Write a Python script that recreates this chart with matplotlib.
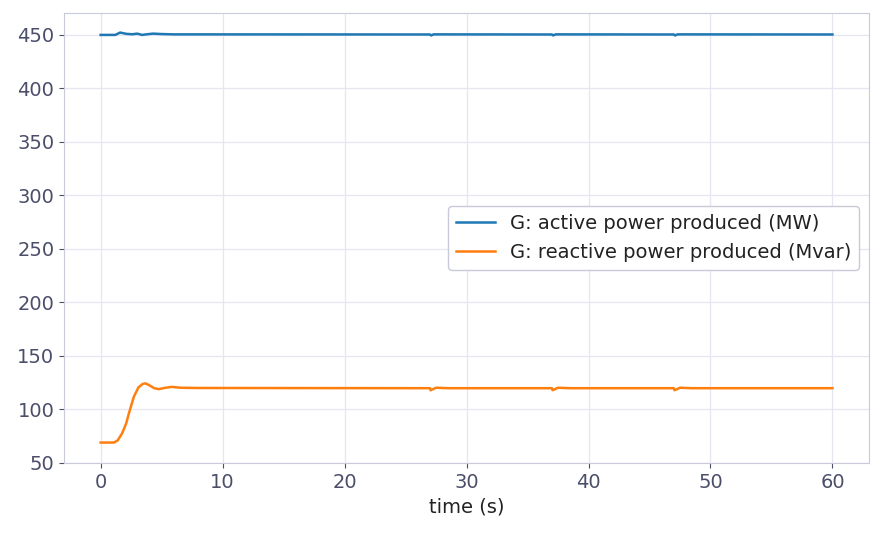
import matplotlib
matplotlib.use("Agg")
import matplotlib.pyplot as plt

# generator response
time_p = [0.0, 1.2, 1.6, 2.1, 2.6, 3.0, 3.4, 3.8, 4.3, 5.0, 6.0, 8.0,
          27.0, 27.1, 27.3, 37.0, 37.1, 37.3, 47.0, 47.1, 47.3, 60.0]
active_mw = [450.0, 450.0, 452.2, 451.0, 450.6, 451.2, 450.0, 450.6, 451.2, 450.8, 450.5, 450.5,
             450.4, 449.5, 450.5, 450.4, 449.5, 450.5, 450.4, 449.5, 450.5, 450.4]

time_q = [0.0, 1.1, 1.4, 1.77, 2.1, 2.32, 2.73, 3.1, 3.45, 3.68, 4.0, 4.4, 4.77, 5.3, 5.86, 6.6, 8.0,
          27.0, 27.05, 27.5, 28.5, 37.0, 37.05, 37.5, 38.5, 47.0, 47.05, 47.5, 48.5, 60.0]
reactive_mvar = [69.0, 69.0, 71.0, 77.8, 87.0, 96.4, 112.0, 120.5, 123.8, 124.3, 122.5, 119.8, 118.9, 120.2,
                 121.0, 120.2, 120.0, 119.8, 117.9, 120.2, 119.8, 119.8, 117.9, 120.2, 119.8,
                 119.8, 117.9, 120.2, 119.8, 119.8]

TICK = "#4a4e69"
EDGE = "#c8cad9"

plt.rcParams["font.size"] = 14
fig = plt.figure(figsize=(8.82, 5.34), dpi=100)
ax = fig.add_axes([0.0726, 0.133, 0.9127, 0.8427])

ax.plot(time_p, active_mw, color="#1f77b4", lw=1.8, label="G: active power produced (MW)")
ax.plot(time_q, reactive_mvar, color="#ff7f0e", lw=1.8, label="G: reactive power produced (Mvar)")

ax.set_xlim(-3, 63)
ax.set_ylim(49.9, 470.5)
ax.set_yticks(range(50, 451, 50))
ax.grid(True, color="#e6e6f2", lw=0.9)
ax.set_axisbelow(True)
for s in ax.spines.values():
    s.set_color(EDGE)
ax.tick_params(colors=TICK, labelcolor=TICK)
ax.set_xlabel("time (s)", color="#222222")

leg = ax.legend(loc="center right", frameon=True,
                edgecolor=EDGE, framealpha=1.0, fancybox=True)
for t in leg.get_texts():
    t.set_color("#222222")

fig.savefig("out.png", dpi=100)
